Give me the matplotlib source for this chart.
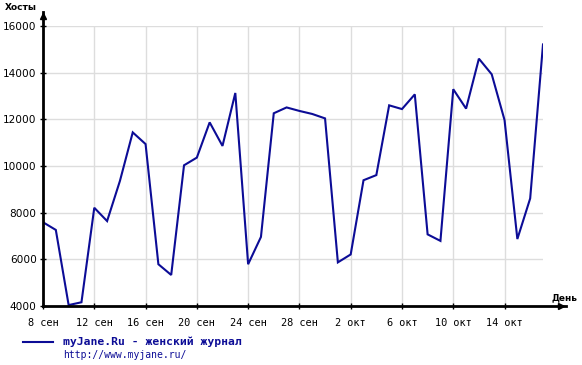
import matplotlib
matplotlib.use("Agg")
from matplotlib import pyplot as plt

# hosts per day, 8 Sep .. 17 Oct
days = list(range(40))
hosts = [7590, 7260, 4040, 4160, 8210, 7640, 9360, 11440, 10940, 5790,
         5330, 10030, 10360, 11870, 10860, 13130, 5790, 6960, 12260, 12510,
         12360, 12230, 12040, 5870, 6210, 9390, 9610, 12600, 12440, 13070,
         7070, 6790, 13290, 12460, 14600, 13930, 11970, 6870, 8610, 15210]
tick_days = [0, 4, 8, 12, 16, 20, 24, 28, 32, 36]
tick_labels = ["8 сен", "12 сен", "16 сен", "20 сен", "24 сен", "28 сен",
               "2 окт", "6 окт", "10 окт", "14 окт"]
y_ticks = [4000, 6000, 8000, 10000, 12000, 14000, 16000]

W, H = 582, 365
fig = plt.figure(figsize=(W / 100, H / 100), dpi=100)
ax = fig.add_axes([43 / W, (H - 306) / H, 500 / W, 280 / H])

line_col = "#0c0c96"
ax.plot(days, hosts, color=line_col, lw=1.5, solid_joinstyle="miter")
ax.set_xlim(0, 39)
ax.set_ylim(4000, 16000)

ax.set_xticks(tick_days)
ax.set_xticklabels(tick_labels, family="DejaVu Sans Mono", fontsize=7.4)
ax.set_yticks(y_ticks)
ax.set_yticklabels([str(v) for v in y_ticks], fontsize=7.6)
ax.tick_params(axis="both", direction="inout", length=5, width=1, color="black")
ax.tick_params(axis="x", pad=6)
ax.tick_params(axis="y", pad=2)
ax.grid(True, color="#dddddd", lw=1)
ax.set_axisbelow(True)
for s in ax.spines.values():
    s.set_visible(False)

# axis lines with arrows
ax.plot([0, 1.045], [0, 0], transform=ax.transAxes, clip_on=False, color="black", lw=2)
ax.plot([1.035], [0], transform=ax.transAxes, clip_on=False, marker=">", color="black", ms=5)
ax.plot([0, 0], [0, 1.05], transform=ax.transAxes, clip_on=False, color="black", lw=2)
ax.plot([0], [1.035], transform=ax.transAxes, clip_on=False, marker="^", color="black", ms=5)

fig.text(5 / W, 1 - 8 / H, "Хосты", fontsize=6.5, fontweight="bold", va="center", ha="left")
fig.text(578 / W, 1 - 298 / H, "День", fontsize=6.5, fontweight="bold", va="center", ha="right")

# legend
fig.add_artist(plt.Line2D([23 / W, 53 / W], [1 - 342 / H, 1 - 342 / H], color=line_col, lw=1.5))
fig.text(63 / W, 1 - 342 / H, "myJane.Ru - женский журнал", family="DejaVu Sans Mono",
         fontsize=8.2, fontweight="bold", color=line_col, va="center", ha="left")
fig.text(63 / W, 1 - 355 / H, "http://www.myjane.ru/", family="DejaVu Sans Mono",
         fontsize=7.0, color=line_col, va="center", ha="left")

fig.savefig("out.png", dpi=100)
